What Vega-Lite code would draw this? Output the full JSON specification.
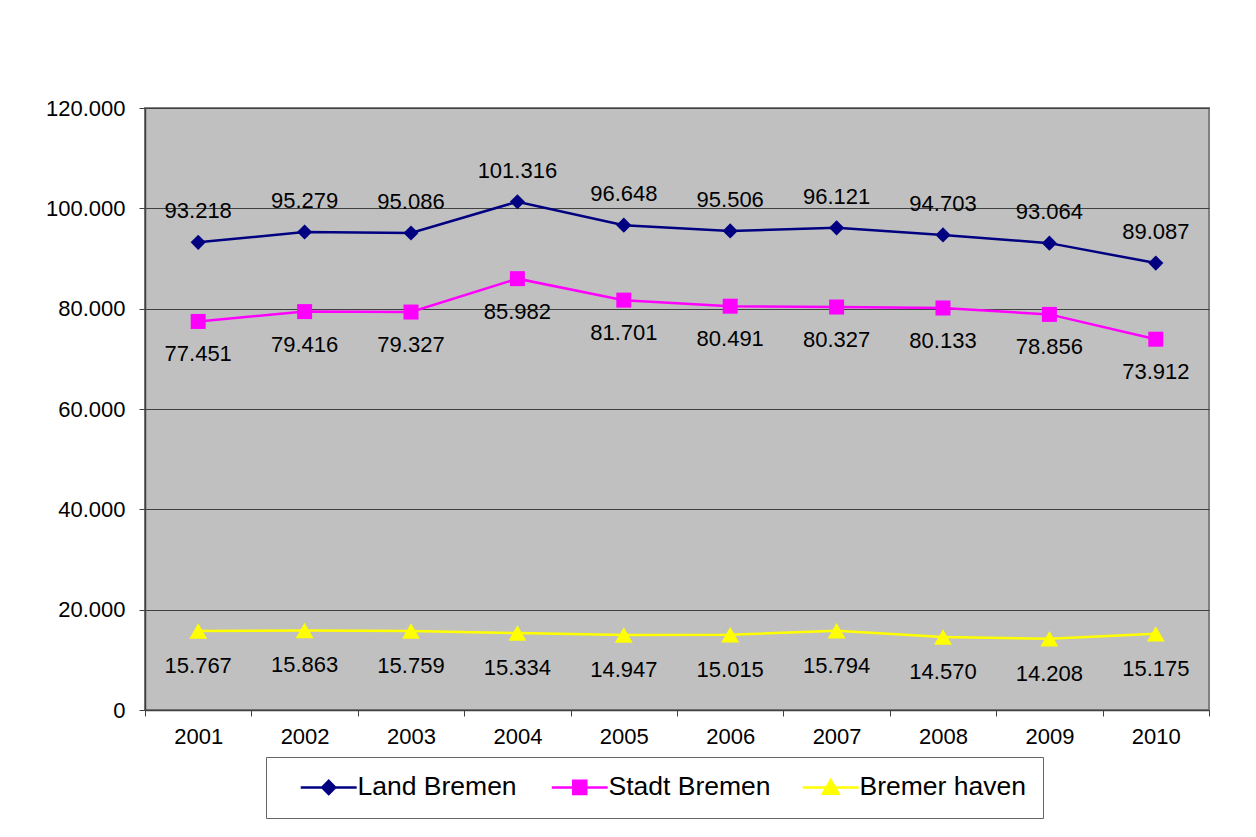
{
  "$schema": "https://vega.github.io/schema/vega-lite/v6.json",
  "width": 1064,
  "height": 602,
  "autosize": "none",
  "padding": {"left": 145, "top": 108, "right": 47, "bottom": 127},
  "background": "white",
  "config": {
    "locale": {"number": {"decimal": ",", "thousands": ".", "grouping": [3], "currency": ["", " €"]}},
    "font": "Liberation Sans",
    "view": {"fill": "#C0C0C0", "stroke": "#808080", "strokeWidth": 2},
    "axis": {"labelFont": "Liberation Sans", "labelFontSize": 22, "labelColor": "#000000", "domainColor": "#404040", "tickColor": "#404040", "tickSize": 6, "domainWidth": 1.5, "tickWidth": 1},
    "legend": {"labelFont": "Liberation Sans"}
  },
  "data": {"values": [
    {"year": "2001", "series": "Land Bremen", "value": 93218},
    {"year": "2002", "series": "Land Bremen", "value": 95279},
    {"year": "2003", "series": "Land Bremen", "value": 95086},
    {"year": "2004", "series": "Land Bremen", "value": 101316},
    {"year": "2005", "series": "Land Bremen", "value": 96648},
    {"year": "2006", "series": "Land Bremen", "value": 95506},
    {"year": "2007", "series": "Land Bremen", "value": 96121},
    {"year": "2008", "series": "Land Bremen", "value": 94703},
    {"year": "2009", "series": "Land Bremen", "value": 93064},
    {"year": "2010", "series": "Land Bremen", "value": 89087},
    {"year": "2001", "series": "Stadt Bremen", "value": 77451},
    {"year": "2002", "series": "Stadt Bremen", "value": 79416},
    {"year": "2003", "series": "Stadt Bremen", "value": 79327},
    {"year": "2004", "series": "Stadt Bremen", "value": 85982},
    {"year": "2005", "series": "Stadt Bremen", "value": 81701},
    {"year": "2006", "series": "Stadt Bremen", "value": 80491},
    {"year": "2007", "series": "Stadt Bremen", "value": 80327},
    {"year": "2008", "series": "Stadt Bremen", "value": 80133},
    {"year": "2009", "series": "Stadt Bremen", "value": 78856},
    {"year": "2010", "series": "Stadt Bremen", "value": 73912},
    {"year": "2001", "series": "Bremer haven", "value": 15767},
    {"year": "2002", "series": "Bremer haven", "value": 15863},
    {"year": "2003", "series": "Bremer haven", "value": 15759},
    {"year": "2004", "series": "Bremer haven", "value": 15334},
    {"year": "2005", "series": "Bremer haven", "value": 14947},
    {"year": "2006", "series": "Bremer haven", "value": 15015},
    {"year": "2007", "series": "Bremer haven", "value": 15794},
    {"year": "2008", "series": "Bremer haven", "value": 14570},
    {"year": "2009", "series": "Bremer haven", "value": 14208},
    {"year": "2010", "series": "Bremer haven", "value": 15175}
  ]},
  "encoding": {
    "x": {"field": "year", "type": "ordinal", "bandPosition": 0.5,
      "scale": {"type": "band", "paddingInner": 0, "paddingOuter": 0},
      "axis": {"title": null, "labelAngle": 0, "tickBand": "extent", "labelPadding": 10, "grid": false}},
    "y": {"field": "value", "type": "quantitative",
      "scale": {"domain": [0, 120000], "nice": false},
      "axis": {"title": null, "values": [0, 20000, 40000, 60000, 80000, 100000, 120000], "format": ",d", "labelPadding": 14, "grid": true, "gridColor": "#404040", "gridWidth": 1}}
  },
  "layer": [
    {
      "mark": {"type": "line", "strokeWidth": 2.5},
      "encoding": {
        "color": {"field": "series", "type": "nominal",
          "scale": {"domain": ["Land Bremen", "Stadt Bremen", "Bremer haven"], "range": ["#000080", "#FF00FF", "#FFFF00"]},
          "legend": {
            "title": null, "orient": "none", "legendX": 121, "legendY": 649, "direction": "horizontal",
            "gridAlign": "all", "columnPadding": 10, "padding": 17,
            "strokeColor": "#666666", "fillColor": "#FFFFFF",
            "labelFontSize": 26.5, "labelColor": "#000000", "labelOffset": 48, "labelLimit": 400,
            "symbolSize": 225,
            "encode": {"symbols": {"update": {
              "shape": {"signal": "datum.value === 'Land Bremen' ? 'M0.6,0H8.06M4.33,-0.87L5.2,0L4.33,0.87L3.46,0Z' : datum.value === 'Stadt Bremen' ? 'M0.6,0H8.06M3.46,-0.87H5.2V0.87H3.46Z' : 'M0.6,0H8.06M4.33,-0.95L5.38,0.85H3.28Z'"},
              "fill": {"signal": "scale('color', datum.value)"},
              "stroke": {"signal": "scale('color', datum.value)"},
              "strokeWidth": {"value": 2.5},
              "opacity": {"value": 1}
            }}}
          }}
      }
    },
    {
      "transform": [{"filter": "datum.series === 'Land Bremen'"}],
      "mark": {"type": "point", "filled": true, "opacity": 1, "shape": "diamond", "size": 230},
      "encoding": {"color": {"field": "series", "type": "nominal", "legend": null}}
    },
    {
      "transform": [{"filter": "datum.series === 'Stadt Bremen'"}],
      "mark": {"type": "point", "filled": true, "opacity": 1, "shape": "square", "size": 225},
      "encoding": {"color": {"field": "series", "type": "nominal", "legend": null}}
    },
    {
      "transform": [{"filter": "datum.series === 'Bremer haven'"}],
      "mark": {"type": "point", "filled": true, "opacity": 1, "shape": "triangle-up", "size": 320},
      "encoding": {"color": {"field": "series", "type": "nominal", "legend": null}}
    },
    {
      "transform": [{"filter": "datum.series === 'Land Bremen'"}],
      "mark": {"type": "text", "fontSize": 22, "dy": -31, "color": "#000000"},
      "encoding": {"text": {"field": "value", "type": "quantitative", "format": ",d"}}
    },
    {
      "transform": [{"filter": "datum.series === 'Stadt Bremen'"}],
      "mark": {"type": "text", "fontSize": 22, "dy": 33, "color": "#000000"},
      "encoding": {"text": {"field": "value", "type": "quantitative", "format": ",d"}}
    },
    {
      "transform": [{"filter": "datum.series === 'Bremer haven'"}],
      "mark": {"type": "text", "fontSize": 22, "dy": 35, "color": "#000000"},
      "encoding": {"text": {"field": "value", "type": "quantitative", "format": ",d"}}
    }
  ]
}
